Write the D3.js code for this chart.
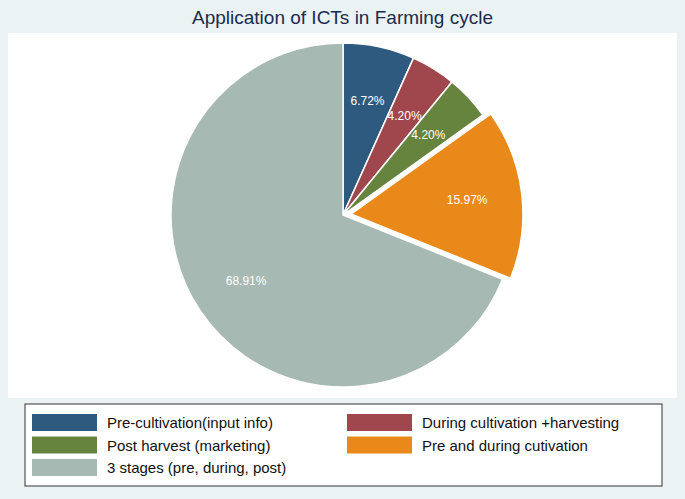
<!DOCTYPE html>
<html><head><meta charset="utf-8">
<script src="https://cdn.jsdelivr.net/npm/d3@7"></script>
<style>body{margin:0;background:#eaf2f3}svg{display:block;font-family:"Liberation Sans",Arial,sans-serif}</style>
</head><body><div id="chart"></div>
<script>
const categories = ["Pre-cultivation(input info)", "During cultivation +harvesting", "Post harvest (marketing)", "Pre and during cutivation", "3 stages (pre, during, post)"];
const values = [6.72, 4.20, 4.20, 15.97, 68.91];
const colors = ["#2f5a80", "#a0474e", "#66843e", "#e8891a", "#a6b9b3"];
const exploded = [false, false, false, true, false];

const W = 685, H = 499;
const svg = d3.select("#chart").append("svg").attr("width", W).attr("height", H);
svg.append("rect").attr("width", W).attr("height", H).attr("fill", "#eaf2f3");
svg.append("text").attr("x", W / 2).attr("y", 24).attr("text-anchor", "middle")
  .attr("font-size", 19).attr("fill", "#1a2c4e").text("Application of ICTs in Farming cycle");
svg.append("rect").attr("x", 8).attr("y", 33).attr("width", 669).attr("height", 365).attr("fill", "#fff");

const cx = 343, cy = 215, R = 172;
const pie = d3.pie().sort(null).value(d => d);
const arcs = pie(values);
const arc = d3.arc().innerRadius(0).outerRadius(R);
const lab = d3.arc().innerRadius(117).outerRadius(117);
const g = svg.append("g").attr("transform", `translate(${cx},${cy})`);

const slice = g.selectAll("g.s").data(arcs).enter().append("g").attr("class", "s")
  .attr("transform", (d, i) => {
    if (!exploded[i]) return null;
    const a = (d.startAngle + d.endAngle) / 2;
    return `translate(${8 * Math.sin(a)},${-8 * Math.cos(a)})`;
  });
slice.append("path").attr("d", arc).attr("fill", (d, i) => colors[i])
  .attr("stroke", "#fff").attr("stroke-width", 1.5);
slice.append("text").attr("transform", d => `translate(${lab.centroid(d)})`)
  .attr("text-anchor", "middle").attr("dy", "0.35em").attr("font-size", 12).attr("fill", "#fff")
  .text(d => d.data.toFixed(2) + "%");

svg.append("rect").attr("x", 25).attr("y", 404).attr("width", 637).attr("height", 82)
  .attr("fill", "#fff").attr("stroke", "#333").attr("stroke-width", 1);
const leg = svg.selectAll("g.l").data(categories).enter().append("g")
  .attr("transform", (d, i) => `translate(${i % 2 ? 347 : 32},${414 + Math.floor(i / 2) * 22.5})`);
leg.append("rect").attr("width", 65).attr("height", 17).attr("fill", (d, i) => colors[i]);
leg.append("text").attr("x", 75).attr("y", 9).attr("dy", "0.35em").attr("font-size", 15)
  .attr("fill", "#111").text(d => d);
</script></body></html>
